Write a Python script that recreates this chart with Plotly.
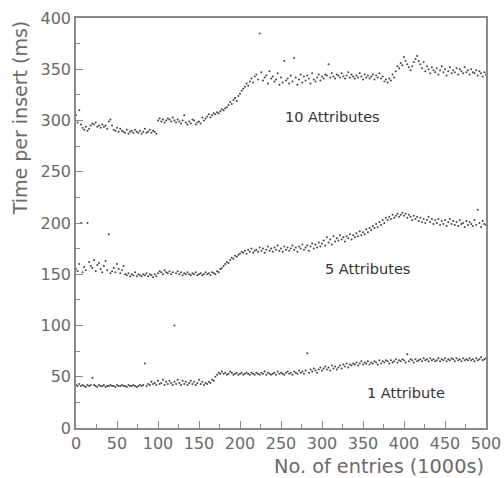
import numpy as np
import plotly.graph_objects as go

# x positions: number of entries (1000s), one sample every 2k entries
entries = list(range(0, 501, 2))

attr10 = [
    305, 298, 310, 296, 293, 291, 294, 290, 292, 295,
    297, 296, 298, 294, 295, 293, 296, 294, 295, 292,
    299, 301, 295, 291, 290, 293, 289, 292, 290, 289,
    288, 291, 287, 289, 290, 288, 291, 289, 288, 290,
    287, 289, 292, 288, 289, 291, 288, 290, 289, 287,
    300, 302, 299, 301, 298, 300, 302, 301, 299, 303,
    300, 298, 301, 299, 297, 300, 305, 298, 296, 299,
    297, 301, 300, 296, 298, 299, 297, 303, 300, 302,
    304, 306, 303, 305, 307, 306, 308, 307, 309, 311,
    310, 312, 313, 315, 318, 316, 320, 322, 319, 324,
    326, 329, 331, 333, 336, 334, 338, 341, 337, 343,
    345, 340, 385, 347, 339, 342, 344, 336, 348, 341,
    343, 338, 340, 346, 335, 342, 337, 358, 339, 341,
    336, 344, 338, 361, 342, 335, 340, 345, 337, 343,
    339, 344, 341, 336, 346, 340, 338, 342, 345, 339,
    343, 341, 345, 344, 355, 342, 346, 343, 341, 345,
    344, 342, 346, 343, 341, 344, 347, 342, 345, 343,
    341, 344, 342, 346, 343, 340, 345, 342, 344, 341,
    343, 345, 340, 344, 342, 346, 341, 343, 338, 340,
    337, 341, 339, 345, 342, 348, 353, 351, 356, 354,
    362, 358, 355, 352, 349, 353, 357, 360, 363, 358,
    355, 351, 357, 348, 353, 350, 346, 352, 349, 347,
    351, 345, 349, 353, 347, 350, 344, 348, 352, 346,
    349, 347, 351, 345, 350, 348, 346, 352, 347, 349,
    345, 350, 347, 346, 349, 344, 348, 346, 343, 347,
    345,
]

attr5 = [
    155, 153, 160, 200, 152, 157, 154, 200, 162, 158,
    156, 164, 153, 159, 161, 155, 152, 158, 163, 154,
    189, 151, 153, 156, 152, 160, 155, 151, 154, 158,
    150, 149, 151, 148, 150, 149, 152, 148, 150, 149,
    148, 150, 149, 151, 148, 150, 149, 147, 150, 148,
    151, 153, 152, 150, 154, 152, 151, 153, 150, 152,
    100, 151, 153, 150, 152, 149, 151, 150, 152, 150,
    149, 151, 150, 152, 149, 150, 151, 149, 150, 152,
    150, 151, 149, 152, 151, 150, 153, 152, 155, 156,
    158, 160, 162, 161, 164, 166, 165, 168, 167, 169,
    170, 172, 171, 173, 170, 174, 172, 175, 171, 173,
    174, 172, 176, 173, 175, 171, 174, 177, 173, 175,
    172, 176, 174, 178, 173, 175, 172, 177, 174, 176,
    173, 175, 178, 174, 176, 172, 177, 175, 179, 174,
    176, 178, 173, 177, 180, 175, 179, 176, 181, 177,
    180, 183, 178, 186, 181, 184, 179, 187, 182, 185,
    183, 188, 184, 186, 182, 187, 185, 189, 184, 188,
    186, 190, 187, 192, 188, 191, 189, 194, 191, 195,
    193, 197, 195, 199, 196, 201, 198, 203, 200, 205,
    203, 206, 204, 208, 205, 207, 209, 206, 208, 210,
    207, 209, 205, 208, 206, 203, 207, 204, 206, 202,
    205, 201, 204, 200, 203, 206, 201, 204, 199, 203,
    200, 204, 198, 202, 199, 203, 197, 201, 204, 199,
    202, 198, 201, 197, 203, 199, 200, 196, 202, 198,
    201, 199, 197, 203, 198, 213, 200, 196, 202, 199,
    198,
]

attr1 = [
    42, 41, 43, 41, 42, 41, 40, 42, 41, 42,
    49, 42, 41, 40, 42, 41, 41, 42, 40, 41,
    41, 42, 41, 41, 40, 42, 41, 41, 42, 41,
    41, 40, 42, 41, 41, 42, 41, 40, 41, 42,
    41, 42, 63, 41, 43, 42, 45, 43, 44, 42,
    46, 43, 44, 47, 42, 45, 43, 46, 44, 42,
    45, 43, 47, 44, 42, 46, 43, 45, 42, 44,
    46, 43, 45, 42, 44, 47, 43, 45, 42, 44,
    43, 45, 44, 47, 46, 50, 52, 54, 53, 55,
    53, 54, 52, 53, 55, 54, 52, 53, 54, 52,
    53, 54, 52, 53, 54, 53, 52, 54, 53, 52,
    54, 53, 52, 54, 53, 55, 52, 54, 53, 52,
    53, 54, 52, 55, 53, 54, 53, 52, 54, 55,
    53, 54, 52, 55, 54, 53, 56, 54, 55, 53,
    56, 73, 54, 57, 55, 58, 56, 54, 57, 59,
    56, 58, 60, 57, 59, 56, 61, 58, 60, 57,
    59, 61, 58, 62, 60, 63, 59, 62, 61, 63,
    62, 64, 61, 63, 65, 62, 64, 63, 65, 62,
    64, 63, 65, 64, 62, 66, 63, 65, 64, 66,
    65, 63, 66, 64, 65, 67, 64, 66, 65, 67,
    66, 64, 72, 65, 67, 66, 64, 67, 65, 66,
    67, 65, 68, 66, 67, 65, 68, 66, 67, 65,
    66, 68, 65, 67, 66, 68, 65, 67, 66, 68,
    67, 65, 68, 66, 67, 65, 68, 66, 67, 66,
    68, 66, 67, 65, 68, 66, 67, 69, 66, 67,
    68,
]

series_names = ["10 Attributes", "5 Attributes", "1 Attribute"]
label_x = [252, 301, 352]
label_y = [303, 155, 34]

x_ticks = list(range(0, 501, 50))
y_ticks = list(range(0, 401, 50))

AXIS_GRAY = "#8a8a8a"
TEXT_GRAY = "#6a6a6a"
FONT = "DejaVu Sans"

fig = go.Figure()
for ys in (attr10, attr5, attr1):
    fig.add_trace(go.Scatter(
        x=entries, y=ys, mode="markers",
        marker=dict(size=2, color="#444444", line=dict(width=0)),
        showlegend=False, hoverinfo="skip",
    ))

for name, lx, ly in zip(series_names, label_x, label_y):
    fig.add_annotation(
        x=lx, y=ly, xref="x", yref="y", text=name, showarrow=False,
        xanchor="left", yanchor="middle",
        font=dict(family=FONT, size=14.5, color="#333333"),
    )

fig.add_annotation(
    x=1.0, y=-0.095, xref="paper", yref="paper", text="No. of entries (1000s)",
    showarrow=False, xanchor="right", yanchor="middle",
    font=dict(family=FONT, size=19.3, color=TEXT_GRAY),
)
fig.add_annotation(
    x=-0.137, y=1.0, xref="paper", yref="paper", text="Time per insert (ms)",
    showarrow=False, xanchor="center", yanchor="top", textangle=-90,
    font=dict(family=FONT, size=19, color=TEXT_GRAY),
)

axis_common = dict(
    showgrid=False, zeroline=False, showline=True, mirror=True,
    linecolor=AXIS_GRAY, linewidth=1.5, automargin=False,
    ticks="inside", ticklen=7, tickwidth=1, tickcolor=AXIS_GRAY,
    tickfont=dict(family=FONT, size=16, color=TEXT_GRAY),
)

fig.update_xaxes(
    range=[0, 500], tickmode="array", tickvals=x_ticks,
    minor=dict(dtick=25, ticks="inside", ticklen=4, tickcolor=AXIS_GRAY),
    **axis_common,
)
fig.update_yaxes(
    range=[0, 400], tickmode="array", tickvals=y_ticks,
    minor=dict(dtick=25, ticks="inside", ticklen=4, tickcolor=AXIS_GRAY),
    **axis_common,
)

fig.update_layout(
    width=504, height=478, autosize=False,
    margin=dict(l=76, r=18, t=18, b=50),
    paper_bgcolor="white", plot_bgcolor="white",
)

fig.write_html(
    "out.html",
    config={"displayModeBar": False, "responsive": False},
    post_script="document.body.style.margin='0px';document.body.style.overflow='hidden';",
)
